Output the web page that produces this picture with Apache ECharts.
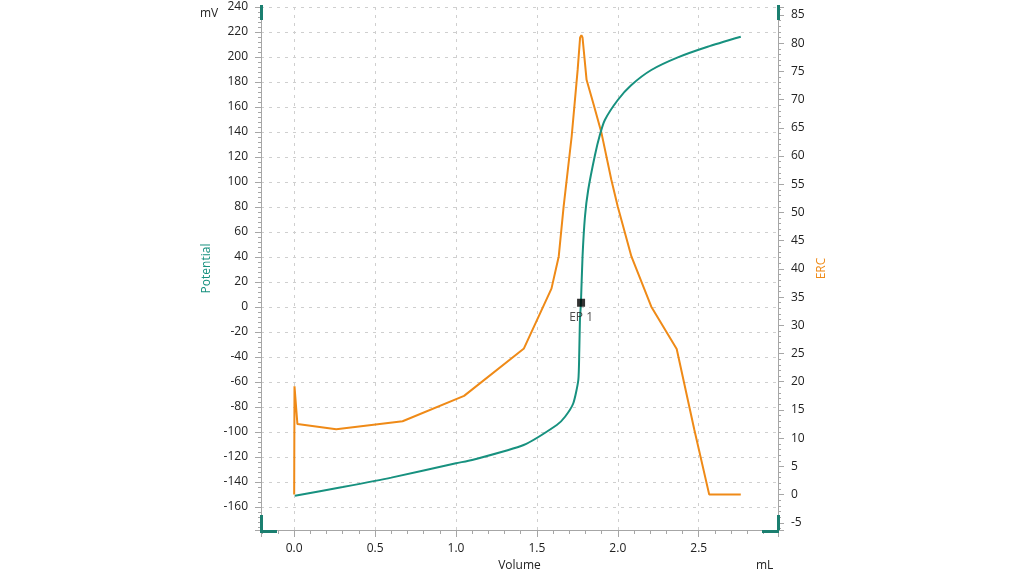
<!DOCTYPE html>
<html>
<head>
<meta charset="utf-8">
<title>Titration curve</title>
<script src="https://cdn.jsdelivr.net/npm/echarts@6/dist/echarts.min.js"></script>
<style>
  html, body { margin: 0; padding: 0; background: #fff; }
  #chart { width: 1024px; height: 580px; }
</style>
</head>
<body>
<div id="chart"></div>
<script>
// Potentiometric titration: potential (mV) and ERC against titrant volume (mL).
const FONT = "'Open Sans', 'Noto Sans', sans-serif";
const TEAL = '#17917f';
const ORANGE = '#ef8a17';
const GRID = { left: 261, right: 246, top: 7, bottom: 50 };

// volume (mL) / potential (mV)
const potVolume = [0.005, 0.3, 0.6, 1.0, 1.1, 1.418, 1.623, 1.674, 1.725, 1.756, 1.762, 1.766,
  1.772, 1.782, 1.797, 1.817, 1.859, 1.889, 1.92, 2.0, 2.084, 2.207, 2.371, 2.555, 2.76];
const potential = [-151, -144, -136.5, -125, -122.4, -110.4, -94.4, -87.8, -77, -58.4, -35, -10.4,
  3, 40.2, 72.2, 93.6, 121.6, 137.6, 149.6, 165.6, 177.6, 189.6, 199.7, 208.2, 216.2];

// volume (mL) / ERC
const ercVolume = [0, 0.002, 0.02, 0.26, 0.67, 1.05, 1.42, 1.59, 1.635, 1.665, 1.715, 1.752,
  1.767, 1.775, 1.782, 1.807, 1.848, 1.899, 1.96, 2.0, 2.084, 2.207, 2.364, 2.473, 2.565, 2.76];
const erc = [0, 19.2, 12.5, 11.6, 13.0, 17.5, 25.9, 36.5, 42.2, 51, 63.5, 75.3,
  81, 81.4, 81, 73.5, 69.4, 64.1, 55.8, 51, 42.2, 33.3, 25.8, 11.5, 0, 0];

// end point
const epVolume = 1.773;
const epPotential = 3.4;
const epLabel = 'EP 1';

const zip = (xs, ys) => xs.map((x, i) => [x, ys[i]]);

const axisLine = { show: true, onZero: false, lineStyle: { color: '#a6a6a6' } };
const labelStyle = { color: '#222', fontSize: 12, fontFamily: FONT };

const chart = echarts.init(document.getElementById('chart'));

// teal range handles at the plot corners
const gx0 = GRID.left, gx1 = 1024 - GRID.right;
const gy0 = GRID.top, gy1 = 580 - GRID.bottom;
const handle = (x, y, w, h) => ({
  type: 'rect', shape: { x, y, width: w, height: h }, style: { fill: '#1b7f70' }, z: 100,
});

chart.setOption({
  animation: false,
  textStyle: { fontFamily: FONT },
  grid: GRID,
  xAxis: {
    type: 'value', min: -0.205, max: 2.99, splitNumber: 6,
    name: 'Volume', nameLocation: 'middle', nameGap: 30,
    nameTextStyle: { color: '#222', fontSize: 12 },
    axisLine, axisTick: { length: 7, lineStyle: { color: '#a6a6a6' } },
    minorTick: { show: true, splitNumber: 5, length: 4, lineStyle: { color: '#a6a6a6' } },
    axisLabel: { ...labelStyle, margin: 13, showMinLabel: false, showMaxLabel: false,
      formatter: (v) => v.toFixed(1) },
    splitLine: { show: true, lineStyle: { color: '#cfcfcf', type: [3, 5] } },
  },
  yAxis: [{
    type: 'value', min: -178.4, max: 240, splitNumber: 21, position: 'left',
    name: 'Potential', nameLocation: 'middle', nameGap: 41,
    nameTextStyle: { color: TEAL, fontSize: 12 },
    axisLine,
    axisTick: { show: true, length: 6, lineStyle: { color: '#a6a6a6' } },
    minorTick: { show: true, splitNumber: 5, length: 3, lineStyle: { color: '#a6a6a6' } },
    axisLabel: { ...labelStyle, margin: 13, showMinLabel: false },
    splitLine: { show: true, lineStyle: { color: '#cfcfcf', type: [3, 5] } },
  }, {
    type: 'value', min: -6.27, max: 86.4, splitNumber: 18, position: 'right',
    name: 'ERC', nameLocation: 'middle', nameGap: 27,
    nameTextStyle: { color: ORANGE, fontSize: 12 },
    axisLine,
    axisTick: { show: true, length: 6, lineStyle: { color: '#a6a6a6' } },
    minorTick: { show: true, splitNumber: 5, length: 3, lineStyle: { color: '#a6a6a6' } },
    axisLabel: { ...labelStyle, margin: 13, showMinLabel: false, showMaxLabel: false },
    splitLine: { show: false },
  }],
  graphic: [
    { type: 'text', left: 200, top: 8, style: { text: 'mV', fill: '#222', font: `12px ${FONT}` } },
    { type: 'text', left: 756, top: 560, style: { text: 'mL', fill: '#222', font: `12px ${FONT}` } },
    handle(gx0 - 1, gy0 - 2, 3, 15),
    handle(gx1 - 1, gy0 - 2, 3, 15),
    handle(gx0 - 1, gy1 - 15, 3, 15),
    handle(gx0 - 1, gy1, 17, 3),
    handle(gx1 - 1, gy1 - 15, 3, 15),
    handle(gx1 - 16, gy1, 17, 3),
  ],
  series: [{
    name: 'ERC', type: 'line', yAxisIndex: 1, data: zip(ercVolume, erc),
    showSymbol: false, lineStyle: { color: ORANGE, width: 2 }, z: 2,
  }, {
    name: 'Potential', type: 'line', yAxisIndex: 0, data: zip(potVolume, potential),
    showSymbol: false, smooth: 0.2, lineStyle: { color: TEAL, width: 2 }, z: 3,
  }, {
    name: epLabel, type: 'scatter', yAxisIndex: 0, data: [[epVolume, epPotential]],
    symbol: 'rect', symbolSize: 8, itemStyle: { color: '#000' }, z: 4,
    label: { show: true, formatter: epLabel, position: 'bottom', distance: 5,
      color: '#222', fontSize: 12, fontFamily: FONT },
  }],
});
</script>
</body>
</html>
